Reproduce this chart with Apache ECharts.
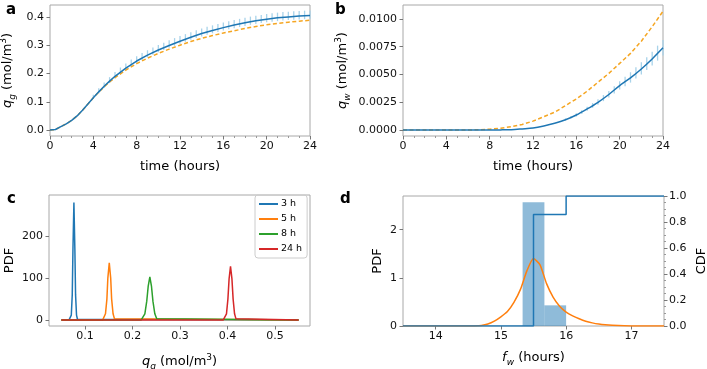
<!DOCTYPE html>
<html>
<head>
<meta charset="utf-8">
<script src="https://cdn.jsdelivr.net/npm/echarts@6/dist/echarts.min.js"></script>
<style>
  html, body { margin: 0; padding: 0; background: #fff; }
  #chart { width: 707px; height: 369px; }
</style>
</head>
<body>
<div id="chart"></div>
<script>
// panel a: q_g over time
var timeA = [0, 0.5, 1, 1.5, 2, 2.5, 3, 3.5, 4, 4.5, 5, 5.5, 6, 7, 8, 9, 10, 11, 12, 13, 14, 15, 16, 17, 18, 19, 20, 21, 22, 23, 24];
var qgMean = [0, 0.002, 0.012, 0.022, 0.034, 0.05, 0.07, 0.092, 0.114, 0.135, 0.155, 0.173, 0.19, 0.219, 0.244, 0.265, 0.283, 0.299, 0.314, 0.328, 0.341, 0.352, 0.362, 0.371, 0.379, 0.386, 0.392, 0.397, 0.4, 0.403, 0.405];
var qgModel = [0, 0.002, 0.012, 0.022, 0.034, 0.05, 0.07, 0.092, 0.114, 0.134, 0.153, 0.17, 0.185, 0.212, 0.235, 0.254, 0.271, 0.286, 0.3, 0.313, 0.324, 0.334, 0.343, 0.351, 0.359, 0.366, 0.372, 0.377, 0.381, 0.385, 0.388];
var errTimeA = [4, 4.5, 5, 5.5, 6, 6.5, 7, 7.5, 8, 8.5, 9, 9.5, 10, 10.5, 11, 11.5, 12, 12.5, 13, 13.5, 14, 14.5, 15, 15.5, 16, 16.5, 17, 17.5, 18, 18.5, 19, 19.5, 20, 20.5, 21, 21.5, 22, 22.5, 23, 23.5, 24];
var errLowA = [0.110, 0.130, 0.149, 0.166, 0.183, 0.198, 0.212, 0.224, 0.236, 0.247, 0.257, 0.266, 0.275, 0.283, 0.291, 0.298, 0.305, 0.312, 0.319, 0.325, 0.331, 0.337, 0.342, 0.347, 0.352, 0.356, 0.360, 0.364, 0.368, 0.372, 0.375, 0.378, 0.381, 0.383, 0.385, 0.387, 0.389, 0.390, 0.391, 0.392, 0.393];
var errHighA = [0.125, 0.148, 0.168, 0.187, 0.205, 0.221, 0.235, 0.249, 0.261, 0.272, 0.282, 0.292, 0.301, 0.309, 0.317, 0.325, 0.332, 0.339, 0.346, 0.353, 0.359, 0.365, 0.370, 0.375, 0.380, 0.385, 0.389, 0.393, 0.397, 0.401, 0.404, 0.407, 0.410, 0.413, 0.415, 0.417, 0.418, 0.420, 0.421, 0.422, 0.423];

// panel b: q_w over time
var timeB = [0, 1, 2, 3, 4, 5, 6, 7, 8, 9, 10, 11, 12, 13, 14, 15, 16, 17, 18, 19, 20, 21, 22, 23, 24];
var qwMean = [0, 0, 0, 0, 0, 0, 0, 0, 0.000003, 0.00001, 0.00003, 0.0001, 0.00018, 0.00036, 0.0006, 0.00092, 0.00135, 0.0019, 0.0025, 0.0032, 0.004, 0.0047, 0.0055, 0.0064, 0.0074];
var qwModel = [0, 0, 0, 0, 0, 0, 0, 0.00002, 0.00007, 0.00016, 0.0003, 0.0005, 0.0008, 0.0012, 0.0016, 0.0022, 0.0028, 0.0035, 0.0043, 0.0051, 0.006, 0.0069, 0.008, 0.0093, 0.0107];
var errTimeB = [15, 15.5, 16, 16.5, 17, 17.5, 18, 18.5, 19, 19.5, 20, 20.5, 21, 21.5, 22, 22.5, 23, 23.5, 24];
var errLowB = [0.00085, 0.00104, 0.00122, 0.00145, 0.00173, 0.00200, 0.00228, 0.00260, 0.00292, 0.00328, 0.00364, 0.00395, 0.00427, 0.00463, 0.00500, 0.00540, 0.00580, 0.00625, 0.00670];
var errHighB = [0.00105, 0.00127, 0.00150, 0.00178, 0.00210, 0.00243, 0.00277, 0.00315, 0.00352, 0.00395, 0.00440, 0.00480, 0.00520, 0.00565, 0.00610, 0.00655, 0.00705, 0.00760, 0.00810];

// panel c: PDF of q_g at several times
var pdfNames = ['3 h', '5 h', '8 h', '24 h'];
var pdfX3 = [0.05, 0.066, 0.069, 0.071, 0.073, 0.0745, 0.0765, 0.0785, 0.080, 0.082, 0.084, 0.087, 0.55];
var pdfY3 = [0, 0, 2, 12, 60, 170, 280, 170, 60, 12, 2, 0, 0];
var pdfX5 = [0.05, 0.137, 0.140, 0.143, 0.146, 0.148, 0.151, 0.154, 0.156, 0.159, 0.162, 0.165, 0.55];
var pdfY5 = [0, 0, 3, 15, 50, 100, 136, 100, 50, 15, 3, 0, 0];
var pdfX8 = [0.05, 0.218, 0.222, 0.226, 0.230, 0.233, 0.2365, 0.240, 0.243, 0.247, 0.251, 0.255, 0.55];
var pdfY8 = [0, 0, 3, 15, 45, 80, 103, 80, 45, 15, 3, 0, 0];
var pdfX24 = [0.05, 0.391, 0.395, 0.398, 0.401, 0.4035, 0.4065, 0.4095, 0.412, 0.415, 0.418, 0.422, 0.55];
var pdfY24 = [0, 0, 3, 15, 50, 98, 128, 98, 50, 15, 3, 0, 0];

// panel d: f_w histogram, kde and cdf
var binStart = [15.333, 15.667];
var binEnd = [15.667, 16.0];
var binDensity = [2.571, 0.429];
var kdeX = [13.5, 14.5, 14.6, 14.7, 14.8, 14.9, 15.0, 15.1, 15.2, 15.3, 15.4, 15.5, 15.6, 15.7, 15.8, 15.9, 16.0, 16.1, 16.2, 16.3, 16.4, 16.5, 16.6, 16.8, 17.0, 17.5];
var kdeY = [0, 0, 0.002, 0.01, 0.04, 0.1, 0.19, 0.3, 0.49, 0.76, 1.15, 1.4, 1.27, 0.88, 0.6, 0.41, 0.29, 0.21, 0.15, 0.1, 0.065, 0.04, 0.025, 0.008, 0.002, 0];
var cdfX = [13.5, 15.5, 16.0, 17.5];
var cdfY = [0, 0.857, 1.0, 1.0];

var blue = '#1f77b4', orange = '#ff7f0e', green = '#2ca02c', red = '#d62728';
var gold = '#f5a623', errBlue = '#a9d3ea';
var frame = '#a8a8a8';

function zip(xs, ys) {
  return xs.map(function (x, i) { return [x, ys[i]]; });
}
function zip3(xs, a, b) {
  return xs.map(function (x, i) { return [x, a[i], b[i]]; });
}

var nameRich = {
  n: { fontSize: 13, lineHeight: 18, color: '#000' },
  i: { fontSize: 13, lineHeight: 18, fontStyle: 'italic', color: '#000' },
  sub: { fontSize: 9, lineHeight: 9, fontStyle: 'italic', verticalAlign: 'bottom', color: '#000' },
  sup: { fontSize: 9, lineHeight: 9, verticalAlign: 'top', color: '#000' }
};

function baseAxis(extra) {
  var ax = {
    type: 'value',
    scale: true,
    nameMoveOverlap: false,
    splitLine: { show: false },
    axisLine: { show: false, onZero: false },
    axisTick: { show: true, length: 3.5, lineStyle: { color: '#777' } },
    axisLabel: { fontSize: 11, color: '#111', margin: 4.5 },
    nameTextStyle: { fontSize: 13, color: '#000', rich: nameRich }
  };
  for (var k in extra) {
    if (typeof extra[k] === 'object' && !Array.isArray(extra[k]) && ax[k]) {
      for (var j in extra[k]) ax[k][j] = extra[k][j];
    } else {
      ax[k] = extra[k];
    }
  }
  return ax;
}

function errorBars(xi, yi, data, color) {
  return {
    type: 'custom',
    xAxisIndex: xi,
    yAxisIndex: yi,
    silent: true,
    renderItem: function (params, api) {
      var lo = api.coord([api.value(0), api.value(1)]);
      var hi = api.coord([api.value(0), api.value(2)]);
      return {
        type: 'line',
        shape: { x1: lo[0], y1: lo[1], x2: hi[0], y2: hi[1] },
        style: { stroke: color, lineWidth: 1.3 }
      };
    },
    encode: { x: 0, y: [1, 2] },
    data: data,
    z: 1
  };
}

var chart = echarts.init(document.getElementById('chart'), null, { renderer: 'canvas' });

var minor = { show: true, splitNumber: 4, length: 2, lineStyle: { color: '#999' } };
function gridBox(l, t, w, h) {
  return { left: l, top: t, width: w, height: h, show: true, borderColor: frame, borderWidth: 1,
    containLabel: false, outerBoundsMode: 'none' };
}

var option = {
  animation: false,
  textStyle: { fontFamily: 'DejaVu Sans' },
  title: [
    { text: 'a', left: 1, top: -2, textStyle: { fontSize: 15, fontWeight: 'bold', color: '#000' } },
    { text: 'b', left: 330, top: -2, textStyle: { fontSize: 15, fontWeight: 'bold', color: '#000' } },
    { text: 'c', left: 2, top: 187, textStyle: { fontSize: 15, fontWeight: 'bold', color: '#000' } },
    { text: 'd', left: 335, top: 187, textStyle: { fontSize: 15, fontWeight: 'bold', color: '#000' } }
  ],
  grid: [
    gridBox(50, 5, 260, 131),
    gridBox(403, 5, 260, 131),
    gridBox(49, 195, 261, 131),
    gridBox(403, 196, 261, 130)
  ],
  legend: {
    data: pdfNames,
    orient: 'vertical',
    left: 255,
    top: 195,
    itemWidth: 19,
    itemHeight: 2,
    itemGap: 5,
    icon: 'rect',
    padding: [4, 5, 4, 4],
    borderColor: '#ccc',
    borderWidth: 1,
    borderRadius: 3,
    textStyle: { fontSize: 9.5, color: '#000', padding: [0, 0, 0, -2] }
  },
  xAxis: [
    baseAxis({ gridIndex: 0, min: 0, max: 24, interval: 4, minorTick: minor,
      name: 'time (hours)', nameLocation: 'middle', nameGap: 24 }),
    baseAxis({ gridIndex: 1, min: 0, max: 24, interval: 4, minorTick: minor,
      name: 'time (hours)', nameLocation: 'middle', nameGap: 24 }),
    baseAxis({ gridIndex: 2, min: 0.024, max: 0.574,
      axisTick: { customValues: [0.1, 0.2, 0.3, 0.4, 0.5] },
      axisLabel: { customValues: [0.1, 0.2, 0.3, 0.4, 0.5], formatter: function (v) { return v.toFixed(1); } },
      name: '{i|q}{sub|g}{n| (mol/m}{sup|3}{n|)}', nameLocation: 'middle', nameGap: 27 }),
    baseAxis({ gridIndex: 3, min: 13.5, max: 17.5,
      axisTick: { customValues: [14, 15, 16, 17] },
      axisLabel: { customValues: [14, 15, 16, 17] },
      name: '{i|f}{sub|w}{n| (hours)}', nameLocation: 'middle', nameGap: 23 })
  ],
  yAxis: [
    baseAxis({ gridIndex: 0, min: -0.021, max: 0.442,
      axisTick: { customValues: [0, 0.1, 0.2, 0.3, 0.4] },
      axisLabel: { customValues: [0, 0.1, 0.2, 0.3, 0.4], margin: 6, formatter: function (v) { return v.toFixed(1); } },
      name: '{i|q}{sub|g}{n| (mol/m}{sup|3}{n|)}', nameLocation: 'middle', nameGap: 33 }),
    baseAxis({ gridIndex: 1, min: -0.00054, max: 0.01126,
      axisTick: { customValues: [0, 0.0025, 0.005, 0.0075, 0.01] },
      axisLabel: { customValues: [0, 0.0025, 0.005, 0.0075, 0.01], margin: 6, formatter: function (v) { return v.toFixed(4); } },
      name: '{i|q}{sub|w}{n| (mol/m}{sup|3}{n|)}', nameLocation: 'middle', nameGap: 51 }),
    baseAxis({ gridIndex: 2, min: -14, max: 297.6,
      axisTick: { customValues: [0, 100, 200] },
      axisLabel: { customValues: [0, 100, 200], margin: 6 },
      name: 'PDF', nameLocation: 'middle', nameGap: 33 }),
    baseAxis({ gridIndex: 3, min: 0, max: 2.7,
      axisTick: { customValues: [0, 1, 2] },
      axisLabel: { customValues: [0, 1, 2], margin: 6 },
      name: 'PDF', nameLocation: 'middle', nameGap: 19 }),
    baseAxis({ gridIndex: 3, position: 'right', min: 0, max: 1, interval: 0.2, minorTick: minor,
      axisLabel: { margin: 5, formatter: function (v) { return v.toFixed(1); } },
      name: 'CDF', nameLocation: 'middle', nameGap: 31 })
  ],
  series: [
    errorBars(0, 0, zip3(errTimeA, errLowA, errHighA), errBlue),
    { type: 'line', xAxisIndex: 0, yAxisIndex: 0, data: zip(timeA, qgModel), showSymbol: false,
      lineStyle: { color: gold, width: 1.5, type: [4, 2.5] }, z: 2 },
    { type: 'line', xAxisIndex: 0, yAxisIndex: 0, data: zip(timeA, qgMean), showSymbol: false,
      lineStyle: { color: blue, width: 1.5 }, z: 3 },

    errorBars(1, 1, zip3(errTimeB, errLowB, errHighB), errBlue),
    { type: 'line', xAxisIndex: 1, yAxisIndex: 1, data: zip(timeB, qwModel), showSymbol: false,
      lineStyle: { color: gold, width: 1.5, type: [4, 2.5] }, z: 2 },
    { type: 'line', xAxisIndex: 1, yAxisIndex: 1, data: zip(timeB, qwMean), showSymbol: false, smooth: 0.3,
      lineStyle: { color: blue, width: 1.5 }, z: 3 },

    { name: pdfNames[0], type: 'line', xAxisIndex: 2, yAxisIndex: 2, data: zip(pdfX3, pdfY3), showSymbol: false,
      color: blue, lineStyle: { width: 1.5 }, z: 2 },
    { name: pdfNames[1], type: 'line', xAxisIndex: 2, yAxisIndex: 2, data: zip(pdfX5, pdfY5), showSymbol: false,
      color: orange, lineStyle: { width: 1.5 }, z: 3 },
    { name: pdfNames[2], type: 'line', xAxisIndex: 2, yAxisIndex: 2, data: zip(pdfX8, pdfY8), showSymbol: false,
      color: green, lineStyle: { width: 1.5 }, z: 4 },
    { name: pdfNames[3], type: 'line', xAxisIndex: 2, yAxisIndex: 2, data: zip(pdfX24, pdfY24), showSymbol: false,
      color: red, lineStyle: { width: 1.5 }, z: 5 },

    { type: 'custom', xAxisIndex: 3, yAxisIndex: 3, silent: true,
      data: binStart.map(function (s, i) { return [s, binEnd[i], binDensity[i]]; }),
      encode: { x: [0, 1], y: 2 },
      renderItem: function (params, api) {
        var p0 = api.coord([api.value(0), api.value(2)]);
        var p1 = api.coord([api.value(1), 0]);
        return { type: 'rect', shape: { x: p0[0], y: p0[1], width: p1[0] - p0[0], height: p1[1] - p0[1] },
          style: { fill: 'rgba(31,119,180,0.5)' } };
      }, z: 1 },
    { type: 'line', xAxisIndex: 3, yAxisIndex: 3, data: zip(kdeX, kdeY), showSymbol: false, smooth: 0.2,
      lineStyle: { color: orange, width: 1.5 }, z: 2 },
    { type: 'line', xAxisIndex: 3, yAxisIndex: 4, data: zip(cdfX, cdfY), showSymbol: false, step: 'end',
      lineStyle: { color: blue, width: 1.5 }, z: 3 }
  ]
};

chart.setOption(option);
</script>
</body>
</html>
